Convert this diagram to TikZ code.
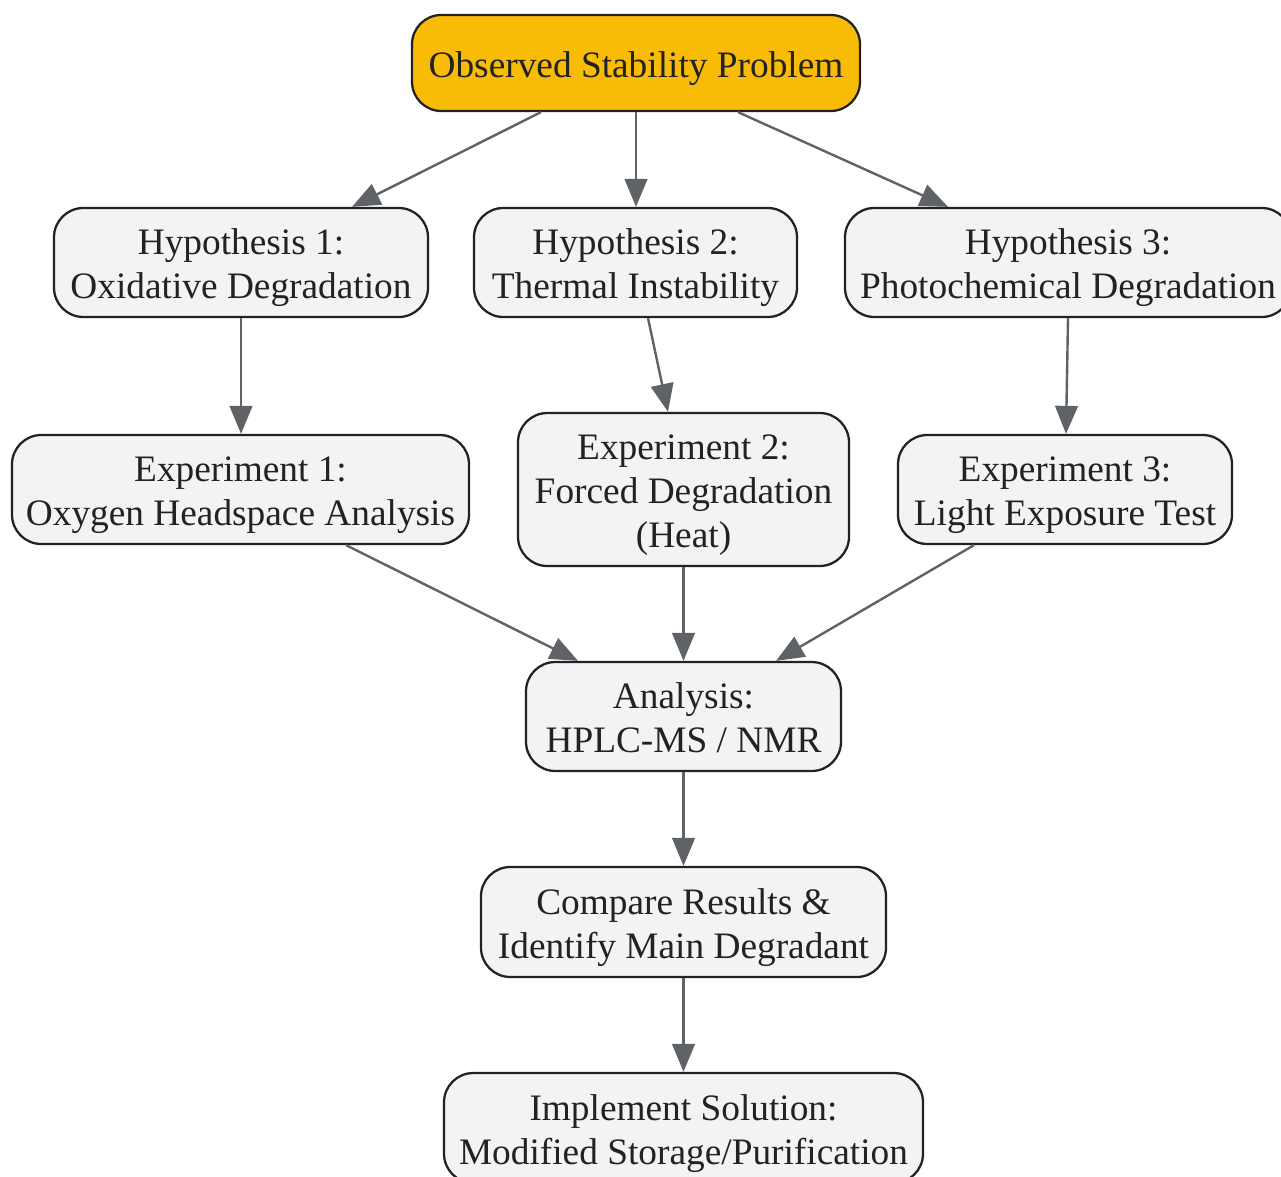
\documentclass[tikz,border=0pt]{standalone}
\usepackage{fontspec}
\setmainfont{Liberation Serif}
\usetikzlibrary{arrows.meta,calc}
\definecolor{topfill}{RGB}{249,188,6}
\definecolor{nodefill}{RGB}{241,243,244}
\definecolor{edgecol}{RGB}{95,99,104}
\definecolor{bordercol}{RGB}{34,34,34}
\definecolor{textcol}{RGB}{34,34,34}
\newcommand{\lowtxt}[1]{\raisebox{-4pt}[\height][\depth]{\begin{tabular}{@{}c@{}}#1\end{tabular}}}
\tikzset{
  box/.style={draw=bordercol, line width=1.7pt, fill=nodefill, rounded corners=22pt,
    align=center, inner sep=0pt, text=textcol,
    font=\fontsize{28}{33}\selectfont},
  topbox/.style={box, fill=topfill},
  arr/.style={draw=edgecol, line width=1.8pt, -{Triangle[length=21pt,width=17pt]}}
}
\begin{document}
\begin{tikzpicture}[x=0.75pt,y=-0.75pt]
\useasboundingbox (0,0) rectangle (1281,1177);
\node[topbox, minimum width=448*0.75pt, minimum height=96*0.75pt] (top) at (636,63) {\lowtxt{Observed Stability Problem}};
\node[box, minimum width=374*0.75pt, minimum height=109*0.75pt] (h1) at (241,262.5) {\lowtxt{Hypothesis 1:\\Oxidative Degradation}};
\node[box, minimum width=323*0.75pt, minimum height=109*0.75pt] (h2) at (635.5,262.5) {\lowtxt{Hypothesis 2:\\Thermal Instability}};
\node[box, minimum width=446*0.75pt, minimum height=109*0.75pt] (h3) at (1068,262.5) {\lowtxt{Hypothesis 3:\\Photochemical Degradation}};
\node[box, minimum width=457*0.75pt, minimum height=109*0.75pt] (e1) at (240.5,489.5) {\lowtxt{Experiment 1:\\Oxygen Headspace Analysis}};
\node[box, minimum width=331*0.75pt, minimum height=153*0.75pt] (e2) at (683.5,489.5) {\lowtxt{Experiment 2:\\Forced Degradation\\(Heat)}};
\node[box, minimum width=334*0.75pt, minimum height=109*0.75pt] (e3) at (1065,489.5) {\lowtxt{Experiment 3:\\Light Exposure Test}};
\node[box, minimum width=315*0.75pt, minimum height=109*0.75pt] (an) at (683.5,716.5) {\lowtxt{Analysis:\\HPLC-MS / NMR}};
\node[box, minimum width=405*0.75pt, minimum height=110*0.75pt] (cmp) at (683.5,922) {\lowtxt{Compare Results \&\\Identify Main Degradant}};
\node[box, minimum width=479*0.75pt, minimum height=110*0.75pt] (impl) at (683.5,1128) {\lowtxt{Implement Solution:\\Modified Storage/Purification}};

\draw[arr] ($(top.south)+(-95,0)$) -- ($(h1.north)+(111,0)$);
\draw[arr] (top.south) -- (top.south |- h2.north);
\draw[arr] ($(top.south)+(102,0)$) -- ($(h3.north)+(-120,0)$);
\draw[arr] (h1.south) -- (h1.south |- e1.north);
\draw[arr] ($(h2.south)+(12.5,0)$) -- ($(e2.north)+(-15.5,0)$);
\draw[arr] (h3.south) -- ($(e3.north)+(1,0)$);
\draw[arr] ($(e1.south)+(105.5,0)$) -- ($(an.north)+(-105.5,0)$);
\draw[arr] (e2.south) -- (an.north);
\draw[arr] ($(e3.south)+(-91,0)$) -- ($(an.north)+(92.5,0)$);
\draw[arr] (an.south) -- (cmp.north);
\draw[arr] (cmp.south) -- (impl.north);
\end{tikzpicture}
\end{document}
